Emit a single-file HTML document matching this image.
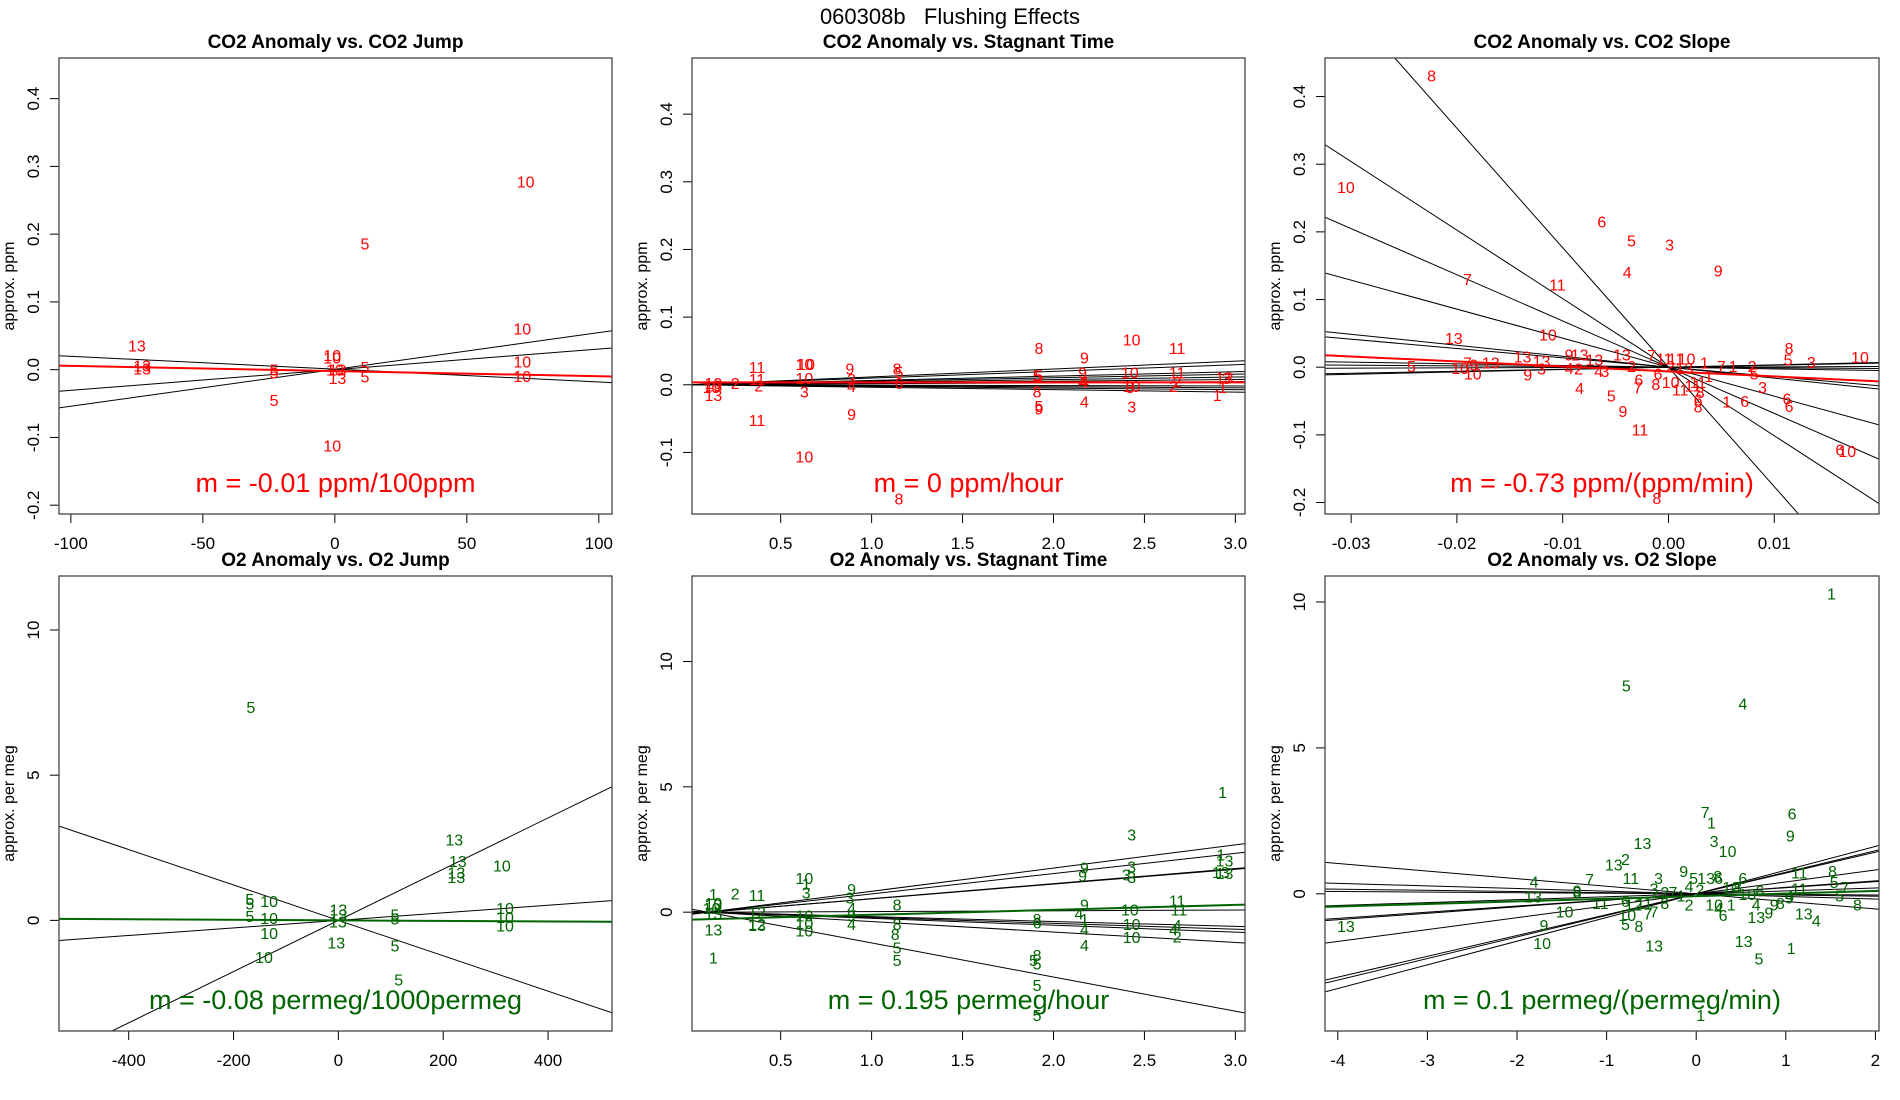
<!DOCTYPE html>
<html><head><meta charset="utf-8"><style>
body{margin:0;background:#fff}
svg{display:block;font-family:"Liberation Sans",Arial,sans-serif}
</style></head><body>
<svg id="chart" width="1900" height="1100" viewBox="0 0 1900 1100" xmlns="http://www.w3.org/2000/svg">
<rect width="1900" height="1100" fill="#fff"/>
<text x="950" y="24" font-size="22" text-anchor="middle">060308b&#160;&#160;&#160;Flushing Effects</text>
</svg>
<script>
// ---- Panel 1: CO2 Anomaly vs CO2 Jump ----
const p1X=[72.3,11.4,-75,-73,-73,-23,-23,-1,-1,0,1,1,11.4,11.4,71,71,71,-23,-1];
const p1Y=[0.278,0.186,0.036,0.006,0.002,0.0,-0.004,0.022,0.018,0.0,0.0,-0.012,0.004,-0.01,0.061,0.012,-0.009,-0.045,-0.112];
const p1L=["10","5","13","13","13","5","5","10","10","10","13","13","5","5","10","10","10","5","10"];
const p1Slopes=[-0.000189,0.000305,0.000543];
const p1Ints=[0.0008,0,0.0004];
const p1Fit=[-0.002,-0.0000764];
// ---- Panel 2: CO2 Anomaly vs Stagnant Time ----
const p2X=[0.13,0.13,0.13,0.12,0.25,0.37,0.37,0.38,0.37,0.63,0.64,0.63,0.63,0.63,0.88,0.89,0.89,0.89,1.14,1.15,1.15,1.15,1.92,1.91,1.92,1.91,1.92,1.92,2.17,2.16,2.16,2.17,2.17,2.43,2.42,2.42,2.43,2.43,2.68,2.68,2.68,2.66,2.94,2.95,2.93,2.9];
const p2Y=[0.0025,-0.0007,-0.015,-0.003,0.0025,0.026,0.0088,-0.0007,-0.052,0.031,0.031,0.01,-0.01,-0.106,0.024,0.0088,-0.0018,-0.043,0.024,0.019,0.0025,-0.168,0.054,0.014,0.014,-0.01,-0.031,-0.035,0.04,0.018,0.0045,0.0045,-0.025,0.067,0.018,-0.003,-0.002,-0.032,0.054,0.018,0.0045,-0.002,0.011,0.0098,-0.003,-0.015];
const p2L=["10","13","13","10","2","11","11","2","11","10","10","10","3","10","9","3","4","9","8","5","6","8","8","5","5","8","5","9","9","9","4","4","4","10","10","3","10","3","11","11","2","2","13","3","1","1"];
const p2Slopes=[0.01166,0.0099,0.0064,0.0052,0.0038,0.0026,0.0015,-0.0006,-0.0015,-0.0024,-0.0036];
const p2Ints=[0,0,0,0,0,0,0,0,0,0,0];
const p2Fit=[0.0035,0];
// ---- Panel 3: CO2 Anomaly vs CO2 Slope ----
const p3X=[-0.0224,-0.0305,-0.0063,-0.0035,0.0001,-0.0039,0.0047,-0.0190,-0.0105,-0.0203,-0.0114,-0.0044,-0.0138,-0.0094,-0.0084,-0.0070,-0.0120,-0.0120,-0.0190,-0.0184,-0.0168,-0.0243,-0.0197,-0.0185,-0.0133,-0.0094,-0.0085,-0.0066,-0.0060,-0.0035,-0.0016,-0.0004,0.0007,0.0017,0.0002,0.0015,0.0034,0.0050,0.0061,0.0079,0.0081,0.0089,0.0114,0.0113,0.0135,0.0181,-0.0028,-0.0010,-0.0012,0.0002,-0.0029,0.0011,0.0023,0.0038,0.0028,0.0030,0.0028,0.0028,0.0055,0.0072,0.0112,0.0114,-0.0084,-0.0054,-0.0043,-0.0027,0.0162,0.0169,-0.0011];
const p3Y=[0.431,0.266,0.215,0.187,0.181,0.141,0.143,0.130,0.122,0.043,0.048,0.019,0.016,0.019,0.019,0.011,0.009,-0.002,0.007,0.004,0.007,0.002,-0.001,-0.009,-0.011,-0.001,-0.002,-0.006,-0.006,0.002,0.018,0.013,0.013,0.013,0.002,-0.001,0.007,0.002,0.002,0.002,-0.009,-0.029,0.028,0.011,0.008,0.015,-0.018,-0.009,-0.025,-0.022,-0.030,-0.033,-0.027,-0.013,-0.022,-0.037,-0.048,-0.058,-0.051,-0.050,-0.046,-0.057,-0.031,-0.042,-0.065,-0.092,-0.122,-0.124,-0.193];
const p3L=["8","10","6","5","3","4","9","7","11","13","10","13","13","9","13","13","13","3","7","9","13","5","10","10","9","4","2","4","3","2","7","11","11","10","2","13","1","7","1","2","5","3","8","5","3","10","6","6","8","10","7","11","11","1","11","8","6","8","1","6","6","6","4","5","9","11","6","10","8"];
const p3Slopes=[-17.66,-10.13,-6.83,-4.29,-1.62,-1.38,-0.25,0.05,0.30,0.35,-0.1];
const p3Ints=[0,0,0,0,0,0,0,0,0,0,0];
const p3Fit=[-0.0063,-0.737];
// ---- Panel 4: O2 Anomaly vs O2 Jump ----
const p4X=[-167,-169,-169,-169,-132,-132,-132,-142,0,0,-1,-4,108,108,108,115,221,228,225,225,312,318,318,318];
const p4Y=[7.34,0.73,0.58,0.15,0.67,0.09,-0.43,-1.26,0.37,0.21,-0.04,-0.76,0.21,0.06,-0.86,-2.04,2.78,2.05,1.65,1.49,1.89,0.43,0.12,-0.18];
const p4L=["5","5","5","5","10","10","10","10","13","13","13","13","5","5","5","5","13","13","13","13","10","10","10","10"];
const p4Slopes=[-0.006095,0.0013,0.00882];
const p4Ints=[0,0,0];
const p4Fit=[0,-0.0000947];
// ---- Panel 5: O2 Anomaly vs Stagnant Time ----
const p5X=[0.13,0.13,0.13,0.12,0.13,0.13,0.13,0.25,0.37,0.37,0.37,0.37,0.63,0.64,0.64,0.63,0.63,0.63,0.89,0.88,0.89,0.89,0.89,1.14,1.14,1.13,1.14,1.14,1.91,1.91,1.89,1.91,1.91,1.91,1.91,2.93,2.43,2.92,2.94,2.94,2.17,2.16,2.43,2.40,2.43,2.17,2.14,2.17,2.17,2.17,2.42,2.43,2.43,2.68,2.69,2.68,2.66,2.68,2.92];
const p5Y=[0.72,0.37,0.3,0.16,-0.06,-0.7,-1.8,0.75,0.68,0.01,-0.48,-0.52,1.36,1.15,0.79,-0.13,-0.44,-0.74,0.93,0.58,0.16,-0.13,-0.48,0.3,-0.48,-0.88,-1.4,-1.9,-0.27,-0.42,-1.9,-1.7,-2.04,-2.9,-4.1,4.8,3.1,2.3,2.06,1.57,1.79,1.46,1.82,1.5,1.4,0.3,-0.06,-0.27,-0.67,-1.3,0.11,-0.48,-1.0,0.47,0.11,-0.52,-0.69,-0.98,1.6];
const p5L=["1","10","13","10","13","13","1","2","11","12","12","13","10","1","3","10","10","10","9","3","4","9","4","8","8","8","5","5","8","6","5","8","5","5","5","1","3","1","13","13","9","9","3","3","3","9","4","1","4","4","10","10","10","11","11","4","4","2","13"];
const p5Slopes=[0.926,0.810,0.600,0.590,0.029,-0.196,-0.234,-0.274,-0.417,-1.362];
const p5Ints=[-0.0926,-0.081,-0.06,-0.059,-0.0029,0.0196,0.0234,0.0274,0.0417,0.1362];
const p5Fit=[-0.302,0.197];
// ---- Panel 6: O2 Anomaly vs O2 Slope ----
const p6X=[1.51,-0.78,0.52,0.10,0.17,1.07,1.05,-0.60,0.20,0.35,-0.92,-0.79,-1.81,-1.82,-1.19,-1.33,-1.33,-0.73,-1.07,-1.47,-3.91,-1.70,-1.72,-0.42,-0.47,-0.35,-0.14,-0.03,0.11,0.24,0.25,-0.08,0.04,-0.26,-0.17,-0.08,0.20,0.25,0.30,0.39,0.39,0.46,0.52,0.57,0.71,0.67,0.67,0.81,0.87,0.94,1.04,1.04,1.15,1.15,1.20,1.34,1.52,1.54,1.66,1.60,1.80,0.53,0.70,1.06,-0.47,-0.77,-0.79,-0.64,-0.70,-0.79,-0.58,-0.47,-0.54,-0.35,0.05];
const p6Y=[10.29,7.13,6.52,2.81,2.44,2.75,1.99,1.74,1.81,1.47,1.01,1.19,0.43,-0.10,0.51,0.12,0.06,0.55,-0.31,-0.61,-1.10,-1.06,-1.69,0.55,0.18,0.06,0.79,0.55,0.55,0.61,0.55,0.27,0.15,0.06,-0.06,-0.37,-0.37,-0.49,-0.73,-0.37,0.24,0.24,0.55,0,0.12,-0.37,-0.79,-0.64,-0.37,-0.31,-0.06,-0.12,0.73,0.18,-0.67,-0.92,0.79,0.40,0.24,-0.06,-0.37,-1.61,-2.22,-1.86,-1.77,-0.73,-1.04,-1.10,-0.37,-0.24,-0.31,-0.61,-0.67,-0.31,-4.16];
const p6L=["1","5","4","7","1","6","9","13","3","10","13","2","4","13","7","9","8","11","11","10","13","9","10","3","3","2","9","5","13","8","6","4","2","7","1","2","10","4","6","1","10","8","6","10","6","4","13","9","9","8","4","9","11","11","13","4","8","5","7","5","8","13","5","1","13","10","5","8","12","6","11","7","7","8","1"];
const p6Slopes=[-0.26,-0.09,-0.04,-0.02,0.1,0.21,0.222,0.408,0.714,0.739,0.811];
const p6Ints=[0,0,0,0,0,0,0,0,0,0,0];
const p6Fit=[-0.08,0.089];

const NS="http://www.w3.org/2000/svg";
const svg=document.getElementById('chart');
function mk(tag,attrs,parent){const e=document.createElementNS(NS,tag);for(const k in attrs)e.setAttribute(k,attrs[k]);(parent||svg).appendChild(e);return e;}

const panels=[
 {id:'p1',title:'CO2 Anomaly vs. CO2 Jump',box:[59,612,58,514],xd:[-104.5,105],yd:[-0.213,0.46],xt:[-100,-50,0,50,100],xtl:["-100","-50","0","50","100"],yt:[-0.2,-0.1,0,0.1,0.2,0.3,0.4],ytl:["-0.2","-0.1","0.0","0.1","0.2","0.3","0.4"],ylab:'approx. ppm',col:'#ff0000',fitText:'m = -0.01 ppm/100ppm',X:p1X,Y:p1Y,L:p1L,S:p1Slopes,I:p1Ints,F:p1Fit},
 {id:'p2',title:'CO2 Anomaly vs. Stagnant Time',box:[692,1245,58,514],xd:[0.0124,3.053],yd:[-0.191,0.483],xt:[0.5,1,1.5,2,2.5,3],xtl:["0.5","1.0","1.5","2.0","2.5","3.0"],yt:[-0.1,0,0.1,0.2,0.3,0.4],ytl:["-0.1","0.0","0.1","0.2","0.3","0.4"],ylab:'approx. ppm',col:'#ff0000',fitText:'m = 0 ppm/hour',X:p2X,Y:p2Y,L:p2L,S:p2Slopes,I:p2Ints,F:p2Fit},
 {id:'p3',title:'CO2 Anomaly vs. CO2 Slope',box:[1325,1879,58,514],xd:[-0.03247,0.0199],yd:[-0.217,0.457],xt:[-0.03,-0.02,-0.01,0,0.01],xtl:["-0.03","-0.02","-0.01","0.00","0.01"],yt:[-0.2,-0.1,0,0.1,0.2,0.3,0.4],ytl:["-0.2","-0.1","0.0","0.1","0.2","0.3","0.4"],ylab:'approx. ppm',col:'#ff0000',fitText:'m = -0.73 ppm/(ppm/min)',X:p3X,Y:p3Y,L:p3L,S:p3Slopes,I:p3Ints,F:p3Fit},
 {id:'p4',title:'O2 Anomaly vs. O2 Jump',box:[59,612,576,1031],xd:[-533,522],yd:[-3.81,11.86],xt:[-400,-200,0,200,400],xtl:["-400","-200","0","200","400"],yt:[0,5,10],ytl:["0","5","10"],ylab:'approx. per meg',col:'#006400',fitText:'m = -0.08 permeg/1000permeg',X:p4X,Y:p4Y,L:p4L,S:p4Slopes,I:p4Ints,F:p4Fit},
 {id:'p5',title:'O2 Anomaly vs. Stagnant Time',box:[692,1245,576,1031],xd:[0.0124,3.053],yd:[-4.74,13.41],xt:[0.5,1,1.5,2,2.5,3],xtl:["0.5","1.0","1.5","2.0","2.5","3.0"],yt:[0,5,10],ytl:["0","5","10"],ylab:'approx. per meg',col:'#006400',fitText:'m = 0.195 permeg/hour',X:p5X,Y:p5Y,L:p5L,S:p5Slopes,I:p5Ints,F:p5Fit},
 {id:'p6',title:'O2 Anomaly vs. O2 Slope',box:[1325,1879,576,1031],xd:[-4.143,2.04],yd:[-4.7,10.89],xt:[-4,-3,-2,-1,0,1,2],xtl:["-4","-3","-2","-1","0","1","2"],yt:[0,5,10],ytl:["0","5","10"],ylab:'approx. per meg',col:'#006400',fitText:'m = 0.1 permeg/(permeg/min)',X:p6X,Y:p6Y,L:p6L,S:p6Slopes,I:p6Ints,F:p6Fit}
];

panels.forEach(p=>{
 const [l,r,t,b]=p.box;
 const sx=v=>l+(v-p.xd[0])/(p.xd[1]-p.xd[0])*(r-l);
 const sy=v=>b-(v-p.yd[0])/(p.yd[1]-p.yd[0])*(b-t);
 const g=mk('g',{});
 
 
 const cp=mk('clipPath',{id:'clip-'+p.id},g);
 mk('rect',{x:l,y:t,width:r-l,height:b-t},cp);
 const tt=mk('text',{x:(l+r)/2,y:t-10,'font-size':19,'font-weight':'bold','text-anchor':'middle'},g);
 tt.textContent=p.title;
 
 
 const yl=mk('text',{x:0,y:0,'font-size':16,'text-anchor':'middle',transform:`translate(${l-45},${(t+b)/2}) rotate(-90)`},g);
 yl.textContent=p.ylab;
 
 
 p.xt.forEach((v,i)=>{
  const x=sx(v);
  const tk=mk('line',{x1:x,x2:x,y1:b,y2:b+9,stroke:'#000','stroke-width':1},g);
  
  
  const tl=mk('text',{x:x,y:b+35,'font-size':17,'text-anchor':'middle'},g);
  tl.textContent=p.xtl[i];
  
  
 });
 p.yt.forEach((v,i)=>{
  const y=sy(v);
  const tk=mk('line',{x1:l-9,x2:l,y1:y,y2:y,stroke:'#000','stroke-width':1},g);
  
  
  const tl=mk('text',{x:0,y:0,'font-size':17,'text-anchor':'middle',transform:`translate(${l-20},${y}) rotate(-90)`},g);
  tl.textContent=p.ytl[i];
  
  
 });
 const inner=mk('g',{'clip-path':`url(#clip-${p.id})`},g);
 p.S.forEach((s,i)=>{
  const a=p.I[i];
  const ln=mk('line',{x1:sx(p.xd[0]),y1:sy(a+s*p.xd[0]),x2:sx(p.xd[1]),y2:sy(a+s*p.xd[1]),stroke:'#000','stroke-width':1},inner);
  
  
 });
 const fl=mk('line',{x1:sx(p.xd[0]),y1:sy(p.F[0]+p.F[1]*p.xd[0]),x2:sx(p.xd[1]),y2:sy(p.F[0]+p.F[1]*p.xd[1]),stroke:p.col,'stroke-width':2},inner);
 
 
 p.X.forEach((xv,i)=>{
  const tx=mk('text',{x:sx(xv),y:sy(p.Y[i])+6,'font-size':16,fill:p.col,'text-anchor':'middle'},inner);
  tx.textContent=p.L[i];
  
  
 });
 const ft=mk('text',{x:(l+r)/2,y:b-22,'font-size':27,fill:p.col,'text-anchor':'middle'},g);
 ft.textContent=p.fitText;
 
 
 const bx=mk('rect',{x:l,y:t,width:r-l,height:b-t,fill:'none',stroke:'#444','stroke-width':1.3},g);
 
 
});
</script>
</body></html>
